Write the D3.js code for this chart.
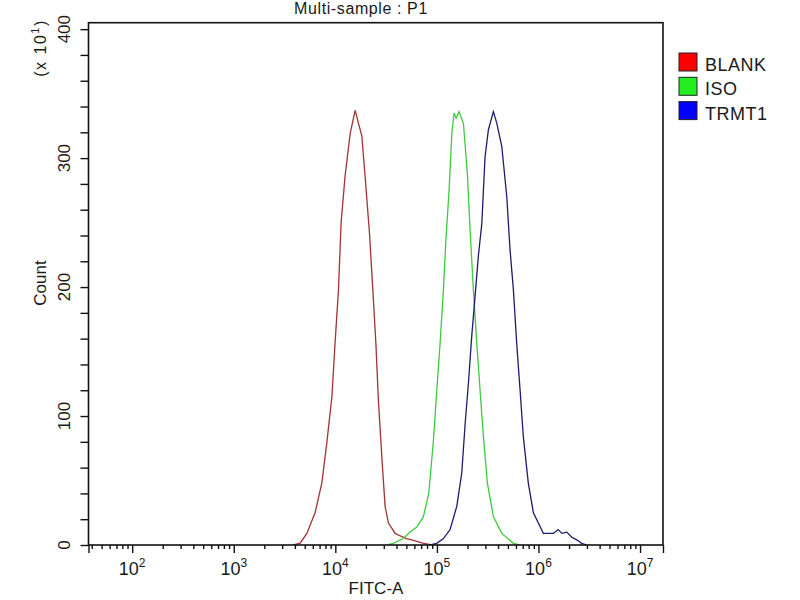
<!DOCTYPE html>
<html><head><meta charset="utf-8">
<script src="https://cdn.jsdelivr.net/npm/d3@7"></script>
<style>
body{margin:0;background:#fff;}
svg text{font-family:"Liberation Sans",Arial,sans-serif;fill:#1a1a1a;}
</style></head>
<body><svg id="c" width="800" height="600"></svg>
<script>
// ---- data (FITC-A intensity, count in units of 10^1) ----
const seriesNames = ["BLANK", "ISO", "TRMT1"];
const lineColors = ["#a33232", "#3ccc3c", "#1c1c6e"];
const legendColors = ["#ff0000", "#22ee22", "#0000ff"];

const blankX = [3850,4510,5240,6320,7360,8240,9250,9950,10740,11400,12470,14000,15670,18240,19630,21680,23390,25060,26550,28710,30900,33340,38820,43650,50120,58880,72440,89130];
const blankY = [0,1.5,9,25,48,79,115,157,198,250,286,319,337,317,286,242,198,157,112,68,30,17,9,7,5,3.5,1.5,0];

const isoX = [32140,37330,46770,54450,63390,73620,83180,92470,99770,107400,115900,122500,131800,140300,147600,154500,165600,182400,199500,212300,228600,247200,266100,287100,314100,359700,435500,566200,659200];
const isoY = [0,1.3,5,10,14,22,40,81,120,156,198,236,275,319,335,331,336,327,288,244,198,156,120,84,48,22,9,1.3,0];

const trmtX = [85700,99770,115900,134900,157000,175800,189700,204200,220300,237700,255900,276700,297900,321400,359700,389000,435500,487500,524800,566200,610900,659200,709600,794300,891300,997700,1117000,1403000,1560000,1706000,1901000,2128000,2382000,2667000,2985000];
const trmtY = [0,1.3,5,12,30,56,94,125,162,193,224,249,301,322,336,327,309,270,229,198,156,120,84,48,25,17,9,9,12,9,10,6,4,1.3,0];

const yMajorTicks = [0,100,200,300,400];
const yMinorStep = 20;
const xMajorExp = [2,3,4,5,6,7];

const xs = [blankX, isoX, trmtX];
const ys = [blankY, isoY, trmtY];

// ---- layout ----
const L = 88.5, R = 663, T = 22.7, B = 545;
const svg = d3.select("#c");
const x = d3.scaleLog().domain([Math.pow(10,1.57), Math.pow(10,7.226)]).range([L, R]);
const y = d3.scaleLinear().domain([0, 405]).range([B, T]);

svg.append("defs").append("clipPath").attr("id","clip")
  .append("rect").attr("x",L).attr("y",T).attr("width",R-L).attr("height",B-T);

// curves
const line = d3.line().x(d => x(d[0])).y(d => y(d[1]));
const g = svg.append("g").attr("clip-path","url(#clip)");
seriesNames.forEach((n,i) => {
  const pts = xs[i].map((v,j) => [v, ys[i][j]]);
  g.append("path").datum(pts).attr("d", line)
    .attr("fill","none").attr("stroke", lineColors[i]).attr("stroke-width",1.3);
});

// frame
svg.append("rect").attr("x",L).attr("y",T).attr("width",R-L).attr("height",B-T)
  .attr("fill","none").attr("stroke","#111").attr("stroke-width",1.6);

// y axis ticks
const yTicks = d3.range(0, 401, yMinorStep);
const yAxis = d3.axisLeft(y).tickValues(yTicks).tickSize(8).tickFormat("");
const ya = svg.append("g").attr("transform",`translate(${L},0)`).call(yAxis);
ya.select(".domain").remove();
ya.selectAll("line").attr("stroke","#111").attr("stroke-width",1.4);
svg.selectAll(".ylab").data(yMajorTicks).enter().append("text")
  .attr("transform", d => `translate(70,${y(d)}) rotate(-90)`)
  .attr("text-anchor","middle").attr("font-size",17).text(d => d);

// x axis ticks
const minor = [];
for (let e = 1; e <= 7; e++) for (let k = 2; k <= 9; k++) {
  const v = k*Math.pow(10,e);
  if (v > x.domain()[0] && v < x.domain()[1]) minor.push(v);
}
const xMinorAxis = d3.axisBottom(x).tickValues(minor).tickSize(4).tickFormat("");
const xm = svg.append("g").attr("transform",`translate(0,${B})`).call(xMinorAxis);
xm.select(".domain").remove();
xm.selectAll("line").attr("stroke","#111").attr("stroke-width",1.4);
const majorVals = xMajorExp.map(e => Math.pow(10,e)).concat(x.domain());
const xMajorAxis = d3.axisBottom(x).tickValues(majorVals).tickSize(8).tickFormat("");
const xM = svg.append("g").attr("transform",`translate(0,${B})`).call(xMajorAxis);
xM.select(".domain").remove();
xM.selectAll("line").attr("stroke","#111").attr("stroke-width",1.4);

xMajorExp.forEach(e => {
  const t = svg.append("text").attr("x", x(Math.pow(10,e))).attr("y",575)
    .attr("text-anchor","middle").attr("font-size",18);
  t.append("tspan").text("10");
  t.append("tspan").attr("font-size",12).attr("dy",-8).text(e);
});

// labels
svg.append("text").attr("x",361).attr("y",14).attr("text-anchor","middle")
  .attr("font-size",16).attr("letter-spacing",0.6).text("Multi-sample : P1");
svg.append("text").attr("x",376).attr("y",594).attr("text-anchor","middle")
  .attr("font-size",17).text("FITC-A");
svg.append("text").attr("transform","translate(46,283) rotate(-90)")
  .attr("text-anchor","middle").attr("font-size",17).text("Count");
const ux = svg.append("text").attr("transform","translate(46,48) rotate(-90)")
  .attr("text-anchor","middle").attr("font-size",16).attr("letter-spacing",1.5);
ux.append("tspan").text("(x 10");
ux.append("tspan").attr("font-size",11).attr("dy",-7).text("1");
ux.append("tspan").attr("dy",7).text(")");

// legend
const lg = svg.append("g");
seriesNames.forEach((n,i) => {
  const yy = 53 + i*24.3;
  lg.append("rect").attr("x",679).attr("y",yy).attr("width",18).attr("height",18)
    .attr("fill",legendColors[i]).attr("stroke","#222").attr("stroke-width",1);
  lg.append("text").attr("x",705).attr("y",yy+18).attr("font-size",18)
    .attr("letter-spacing",0.5).text(n);
});
</script></body></html>
